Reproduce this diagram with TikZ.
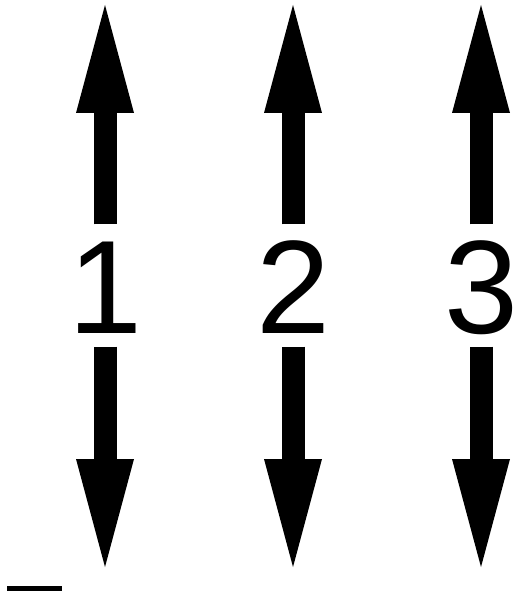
\documentclass[tikz,border=0pt]{standalone}
\usepackage{fontspec}
\setmainfont{Liberation Sans}
\usepackage{tikz}
\usetikzlibrary{arrows.meta}
\tikzset{
digit/.style = {rectangle, inner sep=0pt, minimum height=122pt, text height=95pt, text depth=0pt, font=\fontsize{133}{133}\selectfont},
shaft/.style = {draw=black, line width=23pt, -{Triangle[length=108pt, width=58pt, line width=0pt]}},
}

\begin{document}
\begin{tikzpicture}[x=1pt, y=-1pt]
    \useasboundingbox (0,0) rectangle (519,591);

    \node[digit] (num1) at (105,285.5) {1};
    \node[digit] (num2) at (293,285.5) {2};
    \node[digit] (num3) at (481,285.5) {3};

    \coordinate (up1) at (105,5);
    \coordinate (up2) at (293,5);
    \coordinate (up3) at (481,5);
    \coordinate (down1) at (105,567);
    \coordinate (down2) at (293,567);
    \coordinate (down3) at (481,567);

    \draw[shaft] (num1) -- (up1);
    \draw[shaft] (num2) -- (up2);
    \draw[shaft] (num3) -- (up3);
    \draw[shaft] (num1) -- (down1);
    \draw[shaft] (num2) -- (down2);
    \draw[shaft] (num3) -- (down3);

    \fill[black] (7,586) rectangle (62,591);
\end{tikzpicture}
\end{document}
